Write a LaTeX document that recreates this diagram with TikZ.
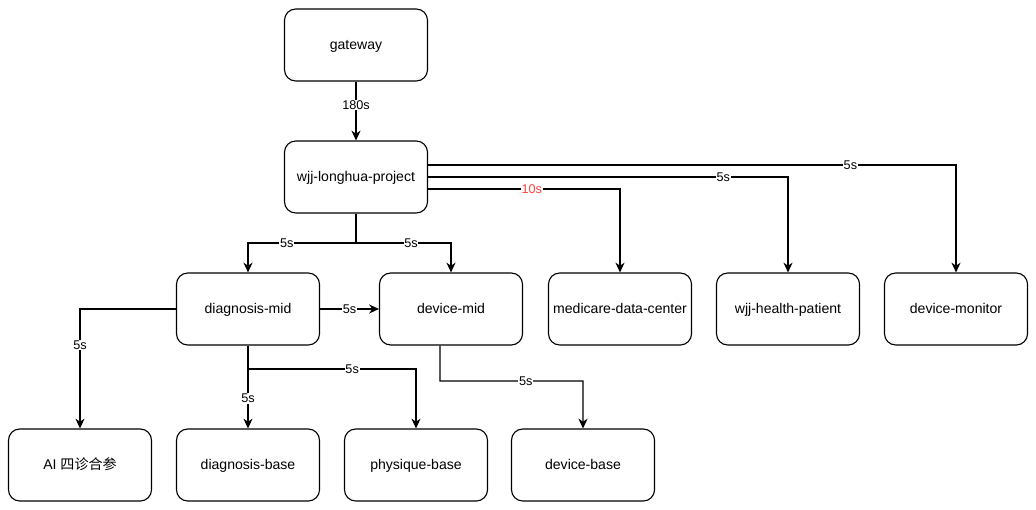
\documentclass[tikz,border=0pt]{standalone}
\usepackage{fontspec}
\setmainfont{Liberation Sans}
\newfontfamily\cjk{Noto Sans CJK SC}
\usetikzlibrary{arrows.meta}
\begin{document}
\begin{tikzpicture}[x=0.025cm, y=-0.025cm, >={Stealth[length=7pt,width=6.5pt]},
        service/.style={draw, line width=0.8pt, rounded corners=8pt, align=center, minimum width=3.575cm, minimum height=1.8cm, text height=1.6ex, text depth=0.4ex, font=\fontsize{10}{12}\selectfont},
        delay/.style={font=\fontsize{9}{11}\selectfont, fill=white, inner sep=0.5pt},
        link/.style={->, line width=0.8pt}]
        \useasboundingbox (0,0) rectangle (1036,509);
        \node[service] (gateway) at (356,45) {gateway};
        \node[service] (project) at (356,177) {wjj-longhua-project};
        \node[service] (diagmid) at (248,309) {diagnosis-mid};
        \node[service] (devmid) at (451,309) {device-mid};
        \node[service] (medicare) at (620,309) {medicare-data-center};
        \node[service] (patient) at (788,309) {wjj-health-patient};
        \node[service] (monitor) at (956,309) {device-monitor};
        \node[service] (ai) at (80,465) {AI {\cjk 四诊合参}};
        \node[service] (diagbase) at (248,465) {diagnosis-base};
        \node[service] (physique) at (416,465) {physique-base};
        \node[service] (devbase) at (583,465) {device-base};
        \coordinate (projsplit) at (356,243);
        \coordinate (diagsplit) at (248,369);
        \coordinate (devsplit) at (440,381);
        \draw[link] (gateway) -- node[delay, pos=0.4]{180s} (project);
        \draw[link] (project.south) -- (projsplit) -| node[delay, pos=0.32]{5s} (diagmid.north);
        \draw[link] (project.south) -- (projsplit) -| node[delay, pos=0.29]{5s} (devmid.north);
        \draw[link] ([yshift=-3mm]project.east) -| node[delay, pos=0.27, text=red!75]{10s} (medicare.north);
        \draw[link] (project.east) -| node[delay, pos=0.41]{5s} (patient.north);
        \draw[link] ([yshift=3mm]project.east) -| node[delay, pos=0.4]{5s} (monitor.north);
        \draw[link] (diagmid) -- node[delay]{5s} (devmid);
        \draw[link] (diagmid.west) -| node[delay, pos=0.65]{5s} (ai.north);
        \draw[link] (diagmid) -- node[delay, pos=0.64]{5s} (diagbase);
        \draw[link] (diagmid.south) -- (diagsplit) -| node[delay, pos=0.31]{5s} (physique.north);
        \draw[link] ([xshift=-2.75mm]devmid.south) -- (devsplit) -| node[delay, pos=0.3]{5s} (devbase.north);
    \end{tikzpicture}
\end{document}
